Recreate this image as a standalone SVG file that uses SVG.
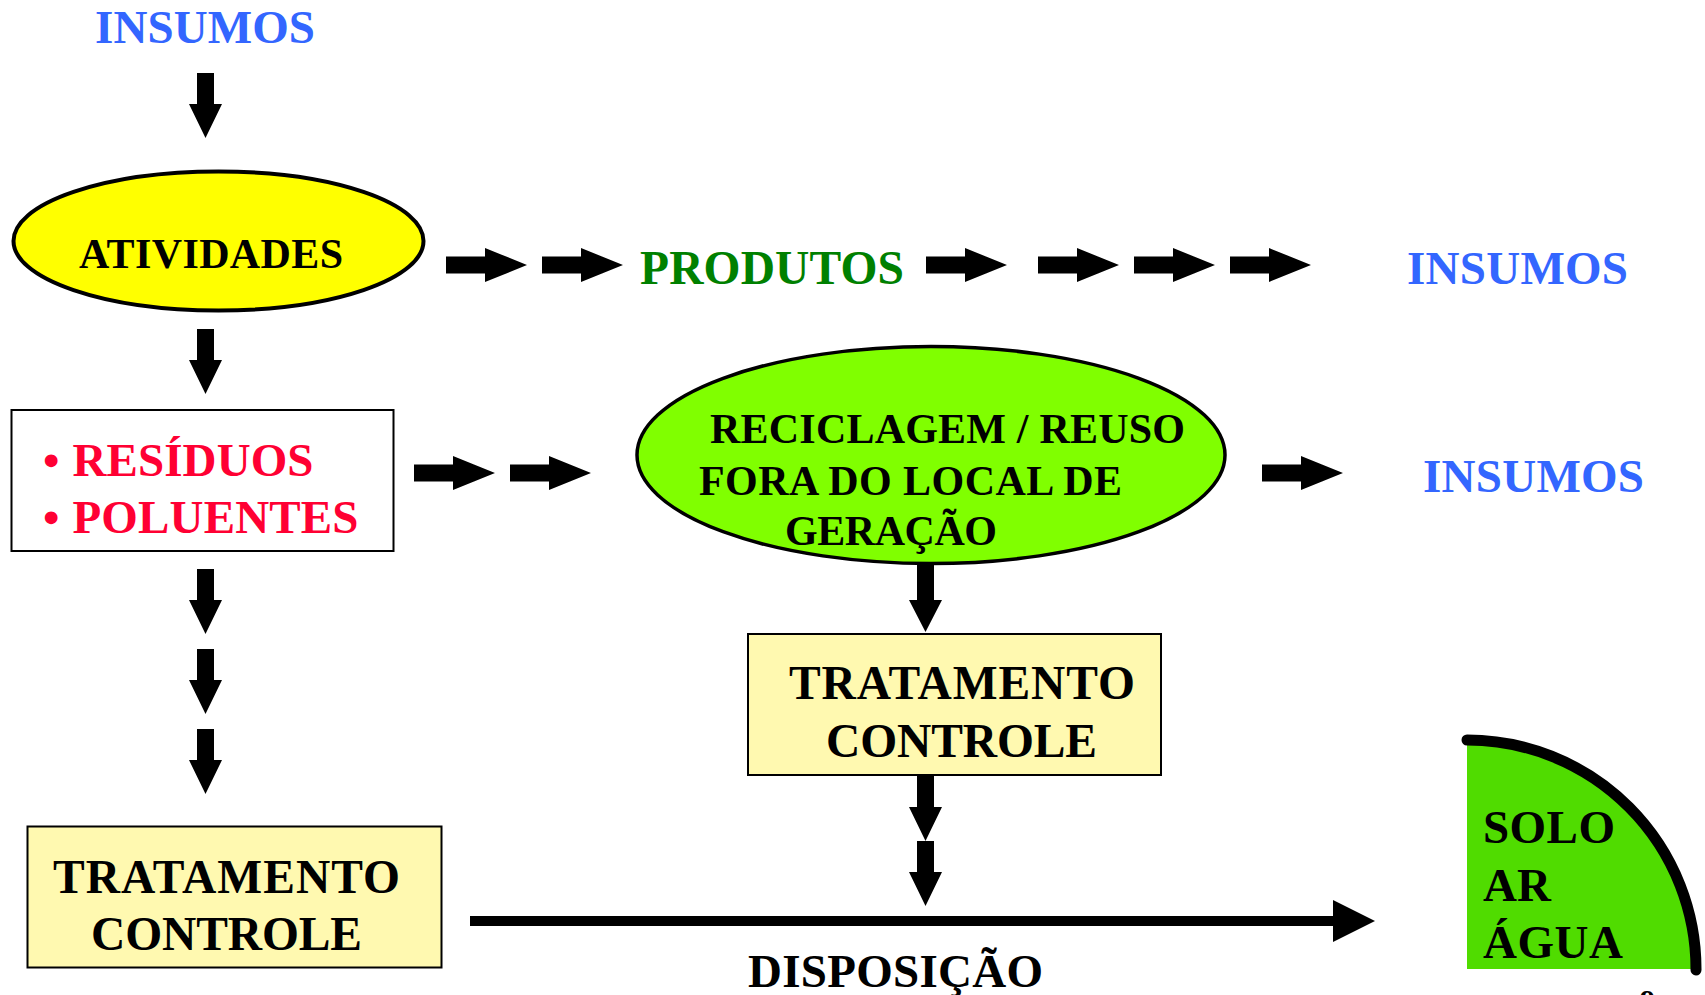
<svg xmlns="http://www.w3.org/2000/svg" xmlns:xlink="http://www.w3.org/1999/xlink" width="1705" height="995" viewBox="0 0 1705 995">
<style>
  .t { font-family: "Liberation Serif", "Times New Roman", serif; font-weight: bold; }
  .blue { fill: #3366FF; font-size: 47px; }
  .black { fill: #000000; }
  .red { fill: #FF0033; font-size: 47px; }
  .green { fill: #008000; font-size: 47.5px; }
  .box { fill: #FFFFFF; stroke: #000000; stroke-width: 2; }
  .ybox { fill: #FFF9B0; stroke: #000000; stroke-width: 2; }
  .arr { fill: #000000; }
</style>
<defs>
  <path id="ah" d="M0,-8.5 H39 V-17 L81,0 L39,17 V8.5 H0 Z"/>
  <path id="av" d="M-8.5,0 V31 H-16.5 L0,65 L16.5,31 H8.5 V0 Z"/>
</defs>
<rect width="1705" height="995" fill="#FFFFFF"/>

<g id="connectors" class="arr">
  <use xlink:href="#av" x="205.5" y="73"/>
  <use xlink:href="#av" x="205.5" y="329"/>
  <use xlink:href="#av" x="205.5" y="569"/>
  <use xlink:href="#av" x="205.5" y="649"/>
  <use xlink:href="#av" x="205.5" y="729"/>
  <use xlink:href="#ah" x="446" y="265"/>
  <use xlink:href="#ah" x="542" y="265"/>
  <use xlink:href="#ah" x="926" y="265"/>
  <use xlink:href="#ah" x="1038" y="265"/>
  <use xlink:href="#ah" x="1134" y="265"/>
  <use xlink:href="#ah" x="1230" y="265"/>
  <use xlink:href="#ah" x="414" y="473"/>
  <use xlink:href="#ah" x="510" y="473"/>
  <use xlink:href="#ah" x="1262" y="473"/>
  <path d="M917,560 V600 H909 L925.5,632 L942,600 H934 V560 Z"/>
  <use xlink:href="#av" x="925.5" y="776"/>
  <use xlink:href="#av" x="925.5" y="841"/>
  <rect x="470" y="916" width="866" height="10"/>
  <path d="M1333,900 L1375,921 L1333,942 Z"/>
</g>

<g id="insumos-top">
  <text class="t blue" x="95" y="43" textLength="220">INSUMOS</text>
</g>

<g id="atividades">
  <ellipse cx="218.5" cy="241" rx="205" ry="69.5" fill="#FFFF00" stroke="#000000" stroke-width="4"/>
  <text class="t black" x="79" y="268" font-size="42" textLength="264">ATIVIDADES</text>
</g>

<g id="produtos">
  <text class="t green" x="640" y="284" textLength="264">PRODUTOS</text>
</g>

<g id="insumos-right-1">
  <text class="t blue" x="1407" y="284" textLength="221">INSUMOS</text>
</g>

<g id="residuos">
  <rect class="box" x="11.5" y="410" width="382" height="141"/>
  <text class="t red" x="43" y="476">•</text>
  <text class="t red" x="72.5" y="476" textLength="241">RESÍDUOS</text>
  <text class="t red" x="43" y="533">•</text>
  <text class="t red" x="72.5" y="533" textLength="286">POLUENTES</text>
</g>

<g id="reciclagem">
  <ellipse cx="931" cy="455" rx="294" ry="108.5" fill="#80FF00" stroke="#000000" stroke-width="3.5"/>
  <text class="t black" font-size="42" x="710" y="443" textLength="475">RECICLAGEM / REUSO</text>
  <text class="t black" font-size="42" x="699" y="495" textLength="423">FORA DO LOCAL DE</text>
  <text class="t black" font-size="42" x="785" y="545" textLength="212">GERAÇÃO</text>
</g>

<g id="insumos-right-2">
  <text class="t blue" x="1423" y="492" textLength="221">INSUMOS</text>
</g>

<g id="tratamento-mid">
  <rect class="ybox" x="748" y="634" width="413" height="141"/>
  <text class="t black" font-size="47.5" x="789" y="699" textLength="346">TRATAMENTO</text>
  <text class="t black" font-size="47.5" x="826" y="757" textLength="271">CONTROLE</text>
</g>

<g id="tratamento-left">
  <rect class="ybox" x="27.5" y="826.5" width="414" height="141"/>
  <text class="t black" font-size="47.5" x="53" y="893" textLength="347">TRATAMENTO</text>
  <text class="t black" font-size="47.5" x="91" y="950" textLength="271">CONTROLE</text>
</g>

<g id="disposicao">
  <text class="t black" font-size="47" x="748" y="987" textLength="295">DISPOSIÇÃO</text>
</g>

<g id="meio">
  <path d="M1467,969 V740 A229,229 0 0 1 1696,969 Z" fill="#50DC00"/>
  <path d="M1467,740 A229,229 0 0 1 1696,970" fill="none" stroke="#000000" stroke-width="11" stroke-linecap="round"/>
  <text class="t black" font-size="47" x="1483" y="843" textLength="132">SOLO</text>
  <text class="t black" font-size="47" x="1483" y="901" textLength="68">AR</text>
  <text class="t black" font-size="47" x="1483" y="958" textLength="140">ÁGUA</text>
</g>

<g id="page-number">
  <text class="t black" font-size="30" x="1640" y="1010">9</text>
</g>
</svg>
